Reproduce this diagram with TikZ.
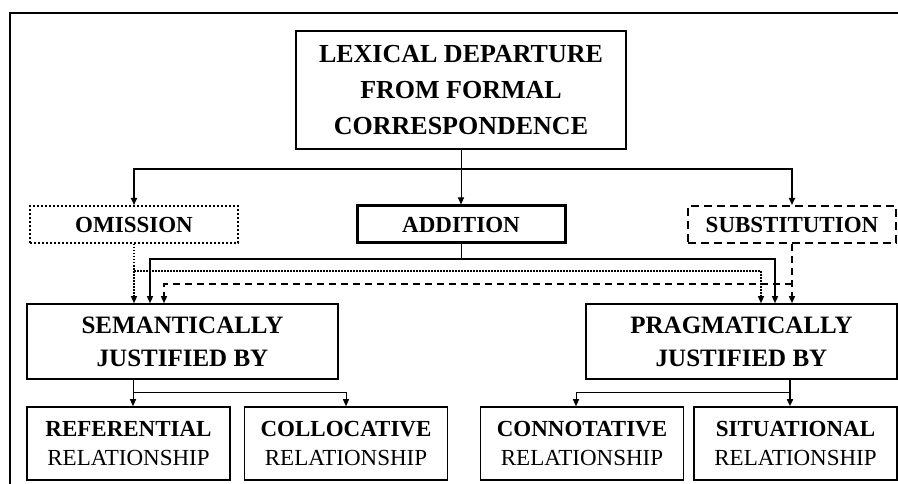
\documentclass[tikz,border=0pt]{standalone}
\usepackage{fontspec}
\setmainfont{Liberation Serif}
\usetikzlibrary{arrows.meta}
\tikzset{
  box/.style={draw, line width=1.5pt, align=center, inner sep=0pt},
  topbox/.style={box, minimum width=330pt, minimum height=118pt, font=\fontsize{26}{36}\selectfont\bfseries},
  midbox/.style={box, minimum width=208pt, minimum height=37pt, font=\fontsize{23}{26}\selectfont\bfseries},
  justbox/.style={box, line width=1.6pt, minimum width=311pt, minimum height=75pt, font=\fontsize{25}{33}\selectfont\bfseries},
  relbox/.style={box, line width=1.6pt, minimum width=203pt, minimum height=73pt, font=\fontsize{23}{29}\selectfont},
  tip/.style={-{Triangle[length=7pt,width=6pt]}},
  conn/.style={line width=1pt},
  dotconn/.style={line width=1.2pt, dash pattern=on 1.5pt off 1.5pt},
  dashconn/.style={line width=1.4pt, dash pattern=on 7pt off 5pt},
}
\begin{document}
\begin{tikzpicture}[x=1pt,y=-1pt]
\useasboundingbox (0,0) rectangle (898,484);
\clip (0,0) rectangle (898,484);
\fill[white] (0,0) rectangle (898,484);
% outer frame
\draw[line width=2.5pt] (10,500) -- (10,13) -- (910,13);

% nodes
\node[topbox] (top) at (461,90) {LEXICAL DEPARTURE\\FROM FORMAL\\CORRESPONDENCE};
\node[midbox, line width=2pt, dash pattern=on 2pt off 2pt] (omis) at (134,224.5) {OMISSION};
\node[midbox, line width=3pt] (add) at (461,224.5) {ADDITION};
\node[midbox, line width=2pt, dash pattern=on 8pt off 5pt] (subs) at (792,224.5) {SUBSTITUTION};
\node[justbox] (sem) at (182.5,341.5) {SEMANTICALLY\\JUSTIFIED BY};
\node[justbox] (prag) at (741.5,341.5) {PRAGMATICALLY\\JUSTIFIED BY};
\node[relbox] (ref) at (128.5,443.5) {\textbf{REFERENTIAL}\\RELATIONSHIP};
\node[relbox] (col) at (346,443.5) {\textbf{COLLOCATIVE}\\RELATIONSHIP};
\node[relbox] (con) at (582,443.5) {\textbf{CONNOTATIVE}\\RELATIONSHIP};
\node[relbox] (sit) at (795.5,443.5) {\textbf{SITUATIONAL}\\RELATIONSHIP};

% top -> row 2
\coordinate (tj) at (461,169);
\draw[conn] (top.south) -- (tj);
\draw[conn, line width=1.6pt, tip] (tj) -| (omis.north);
\draw[conn, line width=1.6pt, tip] (tj) -| (subs.north);
\draw[conn, tip] (tj) -- (add.north);

% addition -> row 3
\coordinate (aj) at (461,259);
\coordinate (aL) at (150,259);
\coordinate (aR) at (775,259);
\draw[conn] (add.south) -- (aj);
\draw[conn, line width=1.3pt, {Triangle[length=7pt,width=6pt]}-{Triangle[length=7pt,width=6pt]}] (aL |- sem.north) -- (aL) -- (aR) -- (aR |- prag.north);

% omission -> row 3
\coordinate (oj) at (134,271);
\coordinate (oR) at (761,271);
\draw[dotconn, tip] (omis.south) -- (omis.south |- sem.north);
\draw[dotconn, tip] (oj) -- (oR) -- (oR |- prag.north);

% substitution -> row 3
\coordinate (sj) at (792,284);
\coordinate (sL) at (164,284);
\draw[dashconn, tip] (subs.south) -- (subs.south |- prag.north);
\draw[dashconn, tip] (sj) -- (sL) -- (sL |- sem.north);

% semantic children
\coordinate (sb) at (133,392);
\draw[conn, tip] (sb |- sem.south) -- (sb |- ref.north);
\draw[conn, tip] (sb) -| (col.north);

% pragmatic children
\coordinate (pb) at (790,392);
\coordinate (pc) at (576,392);
\draw[conn, line width=1.6pt, tip] (pb |- prag.south) -- (pb |- sit.north);
\draw[conn, tip] (pb) -- (pc) -- (pc |- con.north);
\end{tikzpicture}
\end{document}
